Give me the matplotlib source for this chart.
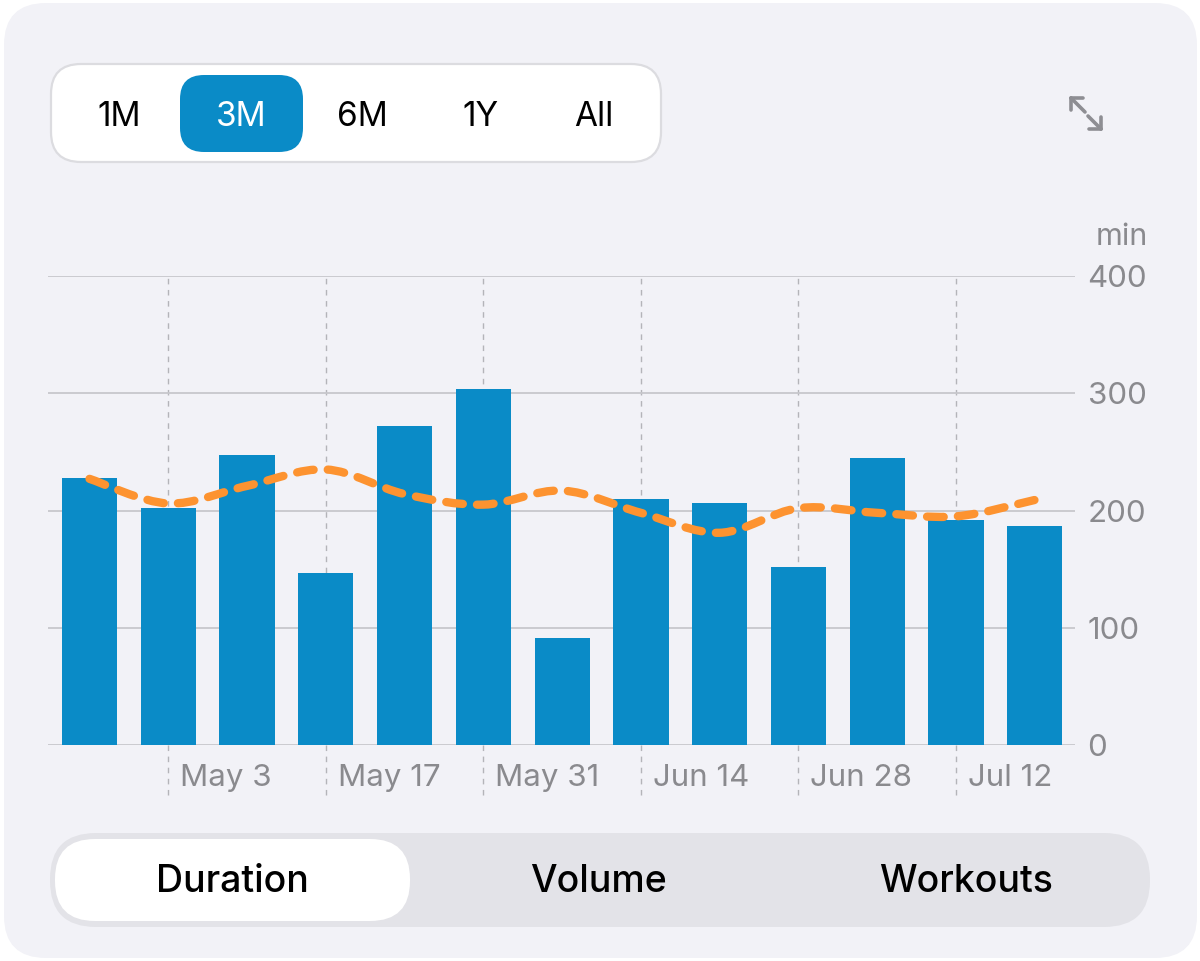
import matplotlib

matplotlib.use("Agg")
import matplotlib.pyplot as plt
import matplotlib.transforms as mtransforms
from matplotlib.patches import FancyBboxPatch, PathPatch
from matplotlib.path import Path
import numpy as np

plt.rcParams["font.family"] = ["Inter", "DejaVu Sans"]

# weekly duration (min), one bar per week starting Apr 26
weeks = ["Apr 26", "May 3", "May 10", "May 17", "May 24", "May 31", "Jun 7",
         "Jun 14", "Jun 21", "Jun 28", "Jul 5", "Jul 12", "Jul 19"]
duration = [228, 202, 247, 147, 272, 304, 91, 210, 206, 152, 245, 192, 187]
trend = [227, 206, 221, 235, 214, 205, 217, 198, 181, 202, 198, 195, 209]
tick_labels = ["May 3", "May 17", "May 31", "Jun 14", "Jun 28", "Jul 12"]
y_ticks = [0, 100, 200, 300, 400]
ranges = ["1M", "3M", "6M", "1Y", "All"]
metrics = ["Duration", "Volume", "Workouts"]

BLUE = "#0A8BC7"
ORANGE = "#FD9330"
GRAY = "#8A8A8E"

fig = plt.figure(figsize=(12, 9.61), dpi=100)
fig.patch.set_facecolor("white")

# ---- pixel-space overlay for the card and controls ----
bg = fig.add_axes([0, 0, 1, 1])
bg.set_xlim(0, 1200)
bg.set_ylim(961, 0)
bg.axis("off")


def rbox(x0, y0, x1, y1, r, fc, ec="none", lw=0, z=1):
    p = FancyBboxPatch((x0, y0), x1 - x0, y1 - y0,
                       boxstyle=f"round,pad=0,rounding_size={r}",
                       fc=fc, ec=ec, lw=lw, zorder=z)
    bg.add_patch(p)


rbox(4, 3, 1197, 958, 42, "#F2F2F7")

# range selector
rbox(51, 64, 661, 162, 30, "white", ec="#DCDCE0", lw=1.6)
rbox(180, 75, 303, 152, 24, BLUE, z=2)
range_x = [119, 241, 362, 481, 594]
for lab, xx in zip(ranges, range_x):
    bg.text(xx, 117, lab, ha="center", va="center", fontsize=24,
            color="white" if lab == "3M" else "black", zorder=3)

# expand icon
icon_kw = dict(color="#8E8E93", lw=2.6, solid_capstyle="round", zorder=3)
bg.plot([1071, 1085], [98, 112], **icon_kw)
bg.plot([1071, 1083], [98, 98], **icon_kw)
bg.plot([1071, 1071], [98, 110], **icon_kw)
bg.plot([1088, 1101], [116, 129], **icon_kw)
bg.plot([1101, 1089], [129, 129], **icon_kw)
bg.plot([1101, 1101], [129, 117], **icon_kw)

# metric selector
rbox(50, 833, 1150, 927, 46, "#E3E3E8")
rbox(55, 839, 410, 921, 40, "white", z=2)
metric_x = [232, 598, 966]
for lab, xx in zip(metrics, metric_x):
    bg.text(xx, 882, lab, ha="center", va="center", fontsize=27,
            fontweight="medium", color="black", zorder=3)

bg.text(1096, 237, "min", ha="left", va="center", fontsize=22, color=GRAY)

# ---- chart ----
ax = fig.add_axes([48 / 1200, 1 - 745 / 961, (1075 - 48) / 1200, (745 - 276) / 961])
ax.patch.set_alpha(0)
x = np.arange(len(weeks))
ax.bar(x, duration, width=0.7, color=BLUE, zorder=2)
ax.set_xlim(-0.527, 12.51)
ax.set_ylim(0, 400)

for s in ax.spines.values():
    s.set_visible(False)
ax.set_yticks(y_ticks)
ax.yaxis.tick_right()
ax.tick_params(axis="y", length=0, pad=9, labelsize=22.5, labelcolor=GRAY)
for t in ax.get_yticklabels():
    t.set_horizontalalignment("left")
ax.grid(axis="y", color="#C7C7CC", lw=1.3, zorder=0)

tick_pos = [weeks.index(lab) for lab in tick_labels]
ax.set_xticks(tick_pos)
ax.set_xticklabels(tick_labels)
ax.tick_params(axis="x", length=0, pad=14, labelsize=22.5, labelcolor=GRAY)
off = mtransforms.ScaledTranslation(12 / 100, 0, fig.dpi_scale_trans)
for t in ax.get_xticklabels():
    t.set_horizontalalignment("left")
    t.set_transform(t.get_transform() + off)
for p in tick_pos:
    ax.axvline(p, ymin=-0.107, ymax=1, color="#B4B4B9", lw=1,
               ls=(0, (4, 4)), clip_on=False, zorder=1)

# smooth trend line (Catmull-Rom as cubic Bezier)
pts = np.column_stack([x, trend]).astype(float)
ext = np.vstack([pts[0], pts, pts[-1]])
verts = [tuple(pts[0])]
codes = [Path.MOVETO]
for i in range(len(pts) - 1):
    p0, p1, p2, p3 = ext[i], ext[i + 1], ext[i + 2], ext[i + 3]
    c1 = p1 + (p2 - p0) / 6
    c2 = p2 - (p3 - p1) / 6
    verts += [tuple(c1), tuple(c2), tuple(p2)]
    codes += [Path.CURVE4] * 3
curve = PathPatch(Path(verts, codes), fill=False, ec=ORANGE, lw=6,
                  ls=(0, (2.0, 1.7)), capstyle="round", zorder=3)
ax.add_patch(curve)

fig.savefig("out.png", dpi=100, facecolor=fig.get_facecolor())
